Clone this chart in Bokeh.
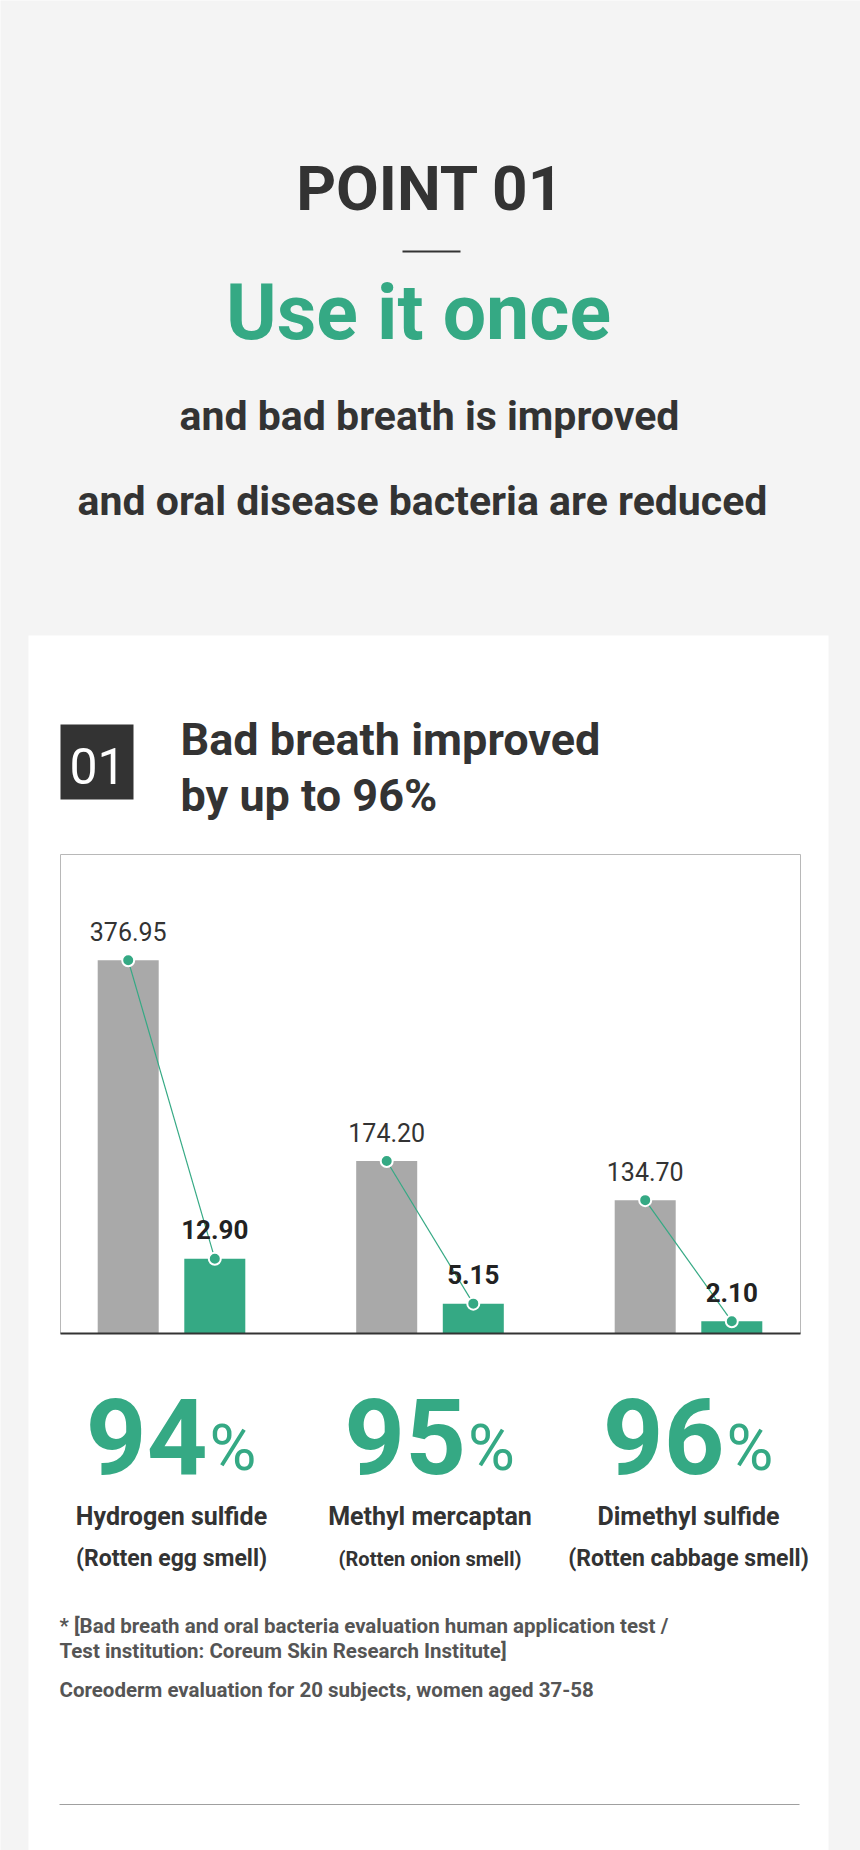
from bokeh.plotting import figure
from bokeh.models import Range1d, ColumnDataSource
from bokeh.core.properties import value
from bokeh.transform import dodge
from bokeh.embed import file_html
from bokeh.resources import INLINE

# ---------------- data ----------------
categories = ["Hydrogen sulfide", "Methyl mercaptan", "Dimethyl sulfide"]
smells = ["(Rotten egg smell)", "(Rotten onion smell)", "(Rotten cabbage smell)"]
before = [376.95, 174.20, 134.70]
after = [12.90, 5.15, 2.10]
reduction = [94, 95, 96]

# ---------------- style / layout ----------------
GREEN = "#35a984"
DARK = "#333333"
GRAYBAR = "#a9a9a9"
FONT = value("Roboto")
BASELINE_FIX = 0.30       # renderer puts the alphabetic baseline this many em low
smell_font_sizes = ["23px", "20px", "23px"]

W, H = 860, 1850
PX0, PY0 = 0, 0
BASE = 1333               # page y of the chart baseline
KB = 0.99                 # px per unit, "before" bars
KA = 5.8                  # px per unit, "after" bars
X0, DX = 171, 258.5       # page x of first group centre, group spacing
OFF = 0.1675              # dodge of bars inside a group (group units)
BW = 0.236                # bar width (group units)

p = figure(width=W, height=H,
           x_range=Range1d(PX0, PX0 + W), y_range=Range1d(PY0 + H, PY0),
           output_backend="svg", toolbar_location=None,
           x_axis_location=None, y_axis_location=None,
           min_border=0, outline_line_color=None,
           background_fill_color="#f4f4f4", border_fill_color="#f4f4f4")
p.grid.visible = False

p.extra_y_ranges = {
    "before": Range1d((BASE - (PY0 + H)) / KB, (BASE - PY0) / KB),
    "after": Range1d((BASE - (PY0 + H)) / KA, (BASE - PY0) / KA),
}
p.extra_x_ranges = {"grp": Range1d((PX0 - X0) / DX, (PX0 + W - X0) / DX)}

def txt(fs, dy=0, **kw):
    kw.setdefault("text_font", FONT)
    kw.setdefault("text_baseline", "alphabetic")
    if "text_font_size" not in kw:
        kw["text_font_size"] = f"{fs}px"
    kw["y_offset"] = dy - BASELINE_FIX * fs
    return p.text(**kw)

# ---------------- header ----------------
txt(62, x=[430], y=[207], text=["POINT 01"], text_font_style="bold",
    text_color=DARK, text_align="center")
p.segment(x0=[402], x1=[460], y0=[251], y1=[251], line_color=DARK, line_width=2)
txt(77, x=[418], y=[336], text=["Use it once"], text_font_style="bold",
    text_color=GREEN, text_align="center")
txt(41, x=[429, 422], y=[428, 513],
    text=["and bad breath is improved", "and oral disease bacteria are reduced"],
    text_font_style="bold", text_color=DARK, text_align="center")

# ---------------- card ----------------
p.quad(left=[28], right=[828], top=[635], bottom=[PY0 + H + 20], fill_color="white", line_color=None)
p.quad(left=[60], right=[133], top=[724], bottom=[799], fill_color=DARK, line_color=None)
txt(50, x=[97], y=[780], text=["01"], text_color="white", text_align="center")
txt(45, x=[180, 180], y=[752, 808], text=["Bad breath improved", "by up to 96%"],
    text_font_style="bold", text_color=DARK, text_align="left")

# chart frame
p.quad(left=[60], right=[800], top=[854], bottom=[BASE], fill_color="white",
       line_color="#b8b8b8", line_width=1)

# ---------------- chart ----------------
src = ColumnDataSource(dict(
    idx=list(range(len(categories))),
    cat=categories,
    smell=smells,
    smell_size=smell_font_sizes,
    before=before,
    after=after,
    after_b=[a * KA / KB for a in after],
    before_lbl=[f"{v:.2f}" for v in before],
    after_lbl=[f"{v:.2f}" for v in after],
    pct=[str(r) for r in reduction],
))

xb = dodge("idx", -OFF)
xa = dodge("idx", OFF)

p.vbar(x=xb, top="before", bottom=0, width=BW, source=src, fill_color=GRAYBAR, line_color=None,
       x_range_name="grp", y_range_name="before")
p.vbar(x=xa, top="after", bottom=0, width=BW, source=src, fill_color=GREEN, line_color=None,
       x_range_name="grp", y_range_name="after")

p.segment(x0=xb, y0="before", x1=xa, y1="after_b", source=src, line_color=GREEN, line_width=1.2,
          x_range_name="grp", y_range_name="before")
p.scatter(x=xb, y="before", source=src, size=12, fill_color=GREEN, line_color="white", line_width=2,
          x_range_name="grp", y_range_name="before")
p.scatter(x=xa, y="after", source=src, size=12, fill_color=GREEN, line_color="white", line_width=2,
          x_range_name="grp", y_range_name="after")

txt(25, dy=-21, x=xb, y="before", text="before_lbl", source=src,
    text_color=DARK, text_align="center", x_range_name="grp", y_range_name="before")
txt(26, dy=-21, x=xa, y="after", text="after_lbl", source=src,
    text_font_style="bold", text_color="#222222", text_align="center",
    x_range_name="grp", y_range_name="after")

# baseline
p.segment(x0=[60], x1=[800], y0=[BASE], y1=[BASE], line_color=DARK, line_width=2)

# ---------------- percentages & names ----------------
txt(106, x="idx", y=1467, text="pct", source=src, x_offset=36, text_font_style="bold",
    text_color=GREEN, text_align="right", x_range_name="grp")
txt(64, x="idx", y=1467, text=value("%"), source=src, x_offset=38,
    text_color=GREEN, text_align="left", x_range_name="grp")
txt(25, x="idx", y=1523, text="cat", source=src, text_font_style="bold",
    text_color=DARK, text_align="center", x_range_name="grp")
txt(22, x="idx", y=1565, text="smell", source=src, text_font_style="bold",
    text_font_size="smell_size", text_color=DARK, text_align="center", x_range_name="grp")

# ---------------- footnotes ----------------
txt(20.5, x=[59, 59, 59], y=[1632, 1657, 1696],
    text=["* [Bad breath and oral bacteria evaluation human application test /",
          "Test institution: Coreum Skin Research Institute]",
          "Coreoderm evaluation for 20 subjects, women aged 37-58"],
    text_font_style="bold", text_color="#555555", text_align="left")
p.segment(x0=[59], x1=[799], y0=[1804], y1=[1804], line_color="#a0a0a0", line_width=1.2)

open("out.html", "w").write(file_html(p, INLINE))
